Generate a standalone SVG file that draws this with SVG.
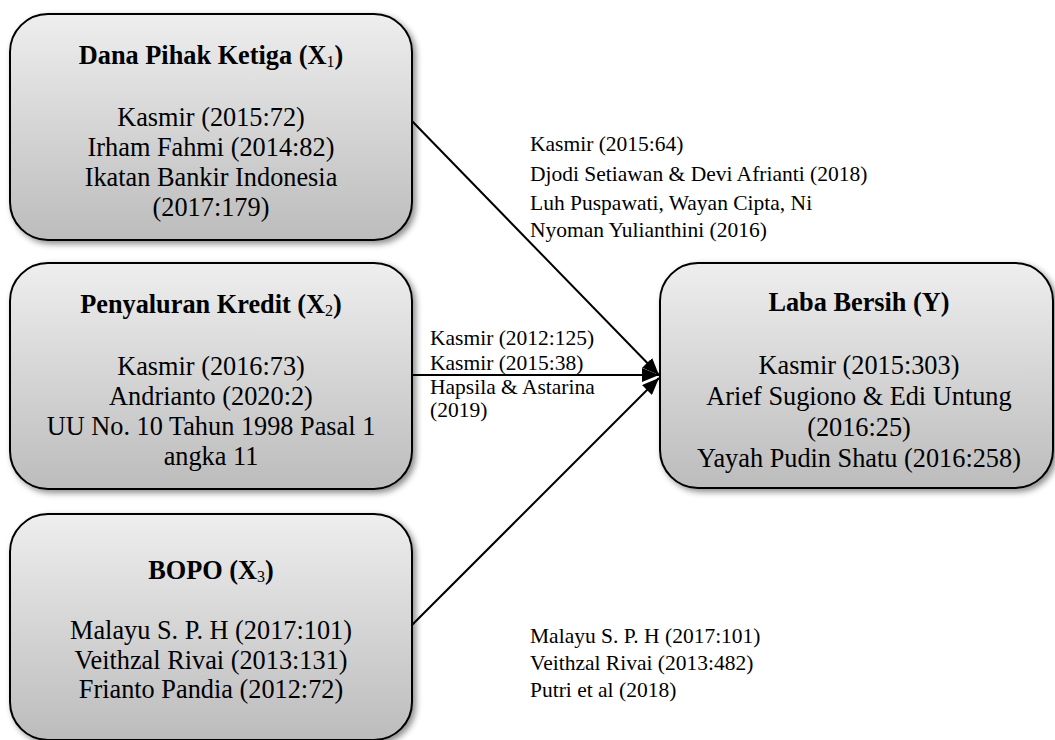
<svg xmlns="http://www.w3.org/2000/svg" width="1055" height="740" viewBox="0 0 1055 740">
<style>
.box{fill:url(#g);stroke:#000;stroke-width:2;filter:url(#sh)}
.t{font-family:"Liberation Serif","Times New Roman",serif;font-size:26.3px;fill:#000;text-anchor:middle}
.b{font-weight:bold}
.sub{font-size:16px;font-weight:normal}
.lab{font-family:"Liberation Serif","Times New Roman",serif;font-size:21.5px;fill:#000}
.c{stroke:#000;stroke-width:2;fill:none;marker-end:url(#ah)}
</style>
<defs>
<linearGradient id="g" x1="0" y1="0" x2="0" y2="1">
<stop offset="0" stop-color="#eeeeee"/>
<stop offset="1" stop-color="#bcbcbc"/>
</linearGradient>
<filter id="sh" x="-10%" y="-10%" width="125%" height="125%">
<feDropShadow dx="3" dy="3" stdDeviation="3" flood-color="#000" flood-opacity="0.45"/>
</filter>
<marker id="ah" markerUnits="userSpaceOnUse" markerWidth="18" markerHeight="14" refX="17" refY="7" orient="auto">
<path d="M0,0 L17,7 L0,14 Z" fill="#000"/>
</marker>
</defs>
<g id="connectors">
<line class="c" x1="412" y1="121" x2="659" y2="375"/>
<line class="c" x1="412" y1="375" x2="659" y2="375"/>
<line class="c" x1="412" y1="625" x2="659" y2="378"/>
</g>
<g id="node-x1">
<rect class="box" x="10" y="14" width="402" height="226" rx="38" ry="38"/>
<text class="t b" x="211" y="64">Dana Pihak Ketiga (X<tspan class="sub" dy="3">1</tspan><tspan dy="-3">)</tspan></text>
<text class="t" x="211" y="126">Kasmir (2015:72)</text>
<text class="t" x="211" y="156">Irham Fahmi (2014:82)</text>
<text class="t" x="211" y="186">Ikatan Bankir Indonesia</text>
<text class="t" x="211" y="216">(2017:179)</text>
</g>
<g id="node-x2">
<rect class="box" x="10" y="263" width="402" height="226" rx="38" ry="38"/>
<text class="t b" x="211" y="313">Penyaluran Kredit (X<tspan class="sub" dy="3">2</tspan><tspan dy="-3">)</tspan></text>
<text class="t" x="211" y="375">Kasmir (2016:73)</text>
<text class="t" x="211" y="405">Andrianto (2020:2)</text>
<text class="t" x="211" y="435">UU No. 10 Tahun 1998 Pasal 1</text>
<text class="t" x="211" y="465">angka 11</text>
</g>
<g id="node-x3">
<rect class="box" x="10" y="514" width="402" height="226" rx="38" ry="38"/>
<text class="t b" x="211" y="579">BOPO (X<tspan class="sub" dy="3">3</tspan><tspan dy="-3">)</tspan></text>
<text class="t" x="211" y="639">Malayu S. P. H (2017:101)</text>
<text class="t" x="211" y="669">Veithzal Rivai (2013:131)</text>
<text class="t" x="211" y="698">Frianto Pandia (2012:72)</text>
</g>
<g id="node-y">
<rect class="box" x="660" y="263" width="393" height="225" rx="38" ry="38"/>
<text class="t b" x="859" y="311">Laba Bersih (Y)</text>
<text class="t" x="859" y="374">Kasmir (2015:303)</text>
<text class="t" x="859" y="405">Arief Sugiono &amp; Edi Untung</text>
<text class="t" x="859" y="436">(2016:25)</text>
<text class="t" x="859" y="467">Yayah Pudin Shatu (2016:258)</text>
</g>
<g id="labels">
<text class="lab" x="530" y="151">Kasmir (2015:64)</text>
<text class="lab" x="530" y="181">Djodi Setiawan &amp; Devi Afrianti (2018)</text>
<text class="lab" x="530" y="210">Luh Puspawati, Wayan Cipta, Ni</text>
<text class="lab" x="530" y="237">Nyoman Yulianthini (2016)</text>
<text class="lab" x="430" y="345">Kasmir (2012:125)</text>
<text class="lab" x="430" y="370">Kasmir (2015:38)</text>
<text class="lab" x="430" y="394">Hapsila &amp; Astarina</text>
<text class="lab" x="430" y="417">(2019)</text>
<text class="lab" x="530" y="643">Malayu S. P. H (2017:101)</text>
<text class="lab" x="530" y="670">Veithzal Rivai (2013:482)</text>
<text class="lab" x="530" y="697">Putri et al (2018)</text>
</g>
</svg>
